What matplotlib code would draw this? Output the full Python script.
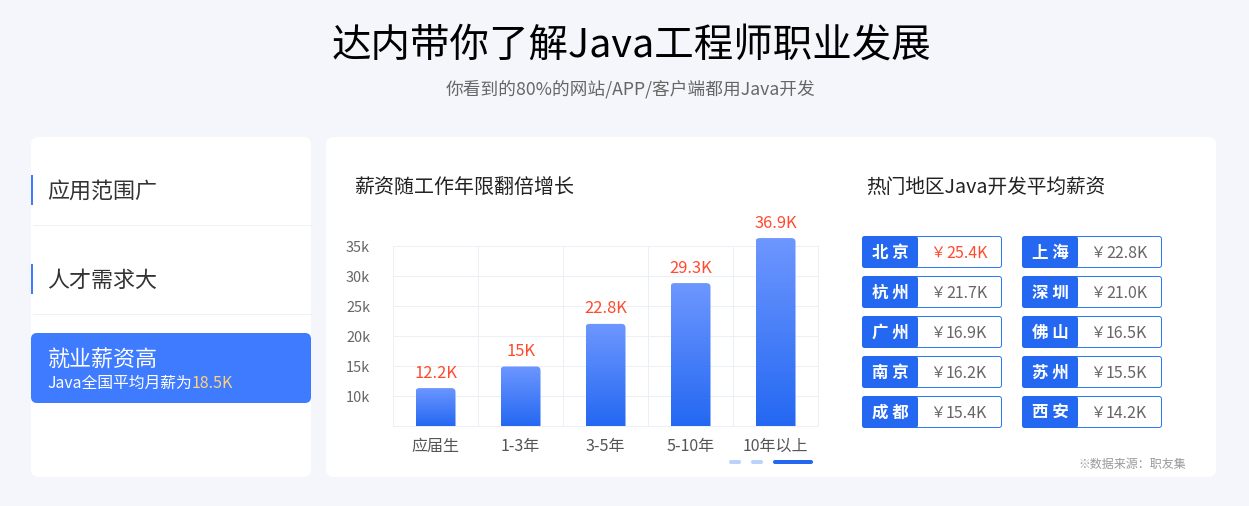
import matplotlib
matplotlib.use("Agg")
import matplotlib.pyplot as plt
import numpy as np
from matplotlib.colors import LinearSegmentedColormap
from matplotlib.patches import FancyBboxPatch, Rectangle
from matplotlib.path import Path

plt.rcParams['font.family'] = ['Noto Sans CJK SC', 'DejaVu Sans']

# chart data
years = ['应届生', '1-3年', '3-5年', '5-10年', '10年以上']
bar_values = [11.4, 15.0, 22.1, 28.9, 36.4]   # bar heights as drawn, they differ a bit from the labels
bar_labels = ['12.2K', '15K', '22.8K', '29.3K', '36.9K']
y_ticks = [10, 15, 20, 25, 30, 35]

cities_left = ['北京', '杭州', '广州', '南京', '成都']
salary_left = ['25.4K', '21.7K', '16.9K', '16.2K', '15.4K']
cities_right = ['上海', '深圳', '佛山', '苏州', '西安']
salary_right = ['22.8K', '21.0K', '16.5K', '15.5K', '14.2K']

BG = '#F4F6FB'
BLUE = '#2468F2'
EDGE = '#2A7AF6'
ACTIVE = '#3F7BFF'
RED = '#FF4A2E'
GREY = '#666666'
GRID = '#EBF0F7'


def px(size):
    """pixel font size to points at dpi 100"""
    return size * 0.72


def round_box(ax, x0, y0, x1, y1, r, color, **kw):
    p = FancyBboxPatch((x0, y0), x1 - x0, y1 - y0, boxstyle=f"round,pad=0,rounding_size={r}",
                       facecolor=color, edgecolor='none', **kw)
    ax.add_patch(p)
    return p


def top_round_path(x0, x1, y0, y1, rx, ry):
    verts = [(x0, y0), (x0, y1 - ry), (x0, y1), (x0 + rx, y1), (x1 - rx, y1), (x1, y1), (x1, y1 - ry), (x1, y0), (x0, y0)]
    codes = [Path.MOVETO, Path.LINETO, Path.CURVE3, Path.CURVE3, Path.LINETO, Path.CURVE3, Path.CURVE3, Path.LINETO, Path.CLOSEPOLY]
    return Path(verts, codes)


fig = plt.figure(figsize=(12.4901, 5.0601), dpi=100, facecolor=BG)

# page layer in pixel coordinates
page = fig.add_axes([0, 0, 1, 1], zorder=1)
page.set_xlim(0, 1249)
page.set_ylim(506, 0)
page.axis('off')

page.text(631, 46, '达内带你了解Java工程师职业发展', fontsize=px(39.5), color='#000000', ha='center', va='center',
          fontweight='medium')
page.text(631, 89, '你看到的80%的网站/APP/客户端都用Java开发', fontsize=px(17.7), color=GREY, ha='center', va='center')

# panels
round_box(page, 31, 137, 311, 477, 8, 'white')
round_box(page, 326, 137, 1216, 477, 8, 'white')

# left menu
for y, name in zip([190, 279], ['应用范围广', '人才需求大']):
    page.add_patch(Rectangle((31, y - 15), 2, 30, facecolor=ACTIVE, edgecolor='none'))
    page.text(47.5, y + 2, name, fontsize=px(22), color='#333333', ha='left', va='center')
page.plot([33, 311], [225.5, 225.5], color='#EEF1F7', lw=0.72)
page.plot([33, 311], [314.5, 314.5], color='#EEF1F7', lw=0.72)
round_box(page, 31, 333, 311, 403, 6, ACTIVE)
page.text(47.5, 360, '就业薪资高', fontsize=px(22), color='white', ha='left', va='center')
page.text(47.5, 383, 'Java全国平均月薪为', fontsize=px(15.8), color='white', ha='left', va='center')
page.text(192, 383, '18.5K', fontsize=px(16), color='#FFD27A', ha='left', va='center')

# section headings
page.text(354.5, 187, '薪资随工作年限翻倍增长', fontsize=px(20), color='#222222', ha='left', va='center')
page.text(866.5, 187, '热门地区Java开发平均薪资', fontsize=px(19.7), color='#222222', ha='left', va='center')

# bar chart
ax = fig.add_axes([393 / 1249, (506 - 426.5) / 506, 425 / 1249, 180 / 506], zorder=2)
ax.patch.set_alpha(0)
ax.set_xlim(-0.5, 4.5)
ax.set_ylim(5, 35)
ax.set_yticks(y_ticks)
ax.set_yticklabels([f'{t}k' for t in y_ticks], fontsize=px(14.5), color=GREY)
ax.set_xticks(range(len(years)))
ax.set_xticklabels(years, fontsize=px(16), color='#555555')
ax.set_xticks(np.arange(-0.5, 4.6, 1), minor=True)
ax.tick_params(axis='both', which='both', length=0)
ax.tick_params(axis='y', pad=16.5)
ax.tick_params(axis='x', pad=8)
ax.grid(True, axis='y', which='major', color=GRID, lw=0.72)
ax.grid(True, axis='x', which='minor', color=GRID, lw=0.72)
ax.set_axisbelow(True)
for s in ax.spines.values():
    s.set_color(GRID)
    s.set_linewidth(0.72)

cmap = LinearSegmentedColormap.from_list('bar', ['#2468F2', '#6E97FF'])
grad = np.linspace(0, 1, 256).reshape(-1, 1)
bar_w = 40 / 85
for i, v in enumerate(bar_values):
    x0, x1 = i - bar_w / 2, i + bar_w / 2
    im = ax.imshow(grad, cmap=cmap, origin='lower', aspect='auto', extent=(x0, x1, 5, v), zorder=3)
    im.set_clip_box(fig.bbox)  # last bar runs above the axes
    im.set_clip_path(top_round_path(x0, x1, 5, v, 4 / 85, 4 / 6), ax.transData)
    ax.annotate(bar_labels[i], (i, v), xytext=(0, px(15)), textcoords='offset points',
                ha='center', va='center', fontsize=px(16.5), color=RED, annotation_clip=False)
ax.set_xlim(-0.5, 4.5)
ax.set_ylim(5, 35)

# pager dots under the chart
round_box(page, 729, 460, 741, 464, 2, '#BBD2FA')
round_box(page, 751, 460, 763, 464, 2, '#BBD2FA')
round_box(page, 773, 460, 813, 464, 2, BLUE)


# city salary cards
def city_column(x, names, salaries, first_red=False):
    for i, (name, sal) in enumerate(zip(names, salaries)):
        y = 236 + i * 40
        round_box(page, x, y, x + 140, y + 32, 3, EDGE)
        round_box(page, x + 1, y + 1, x + 139, y + 31, 2, 'white')
        round_box(page, x, y, x + 56, y + 32, 3, BLUE)
        page.text(x + 28, y + 17, f'{name[0]} {name[1]}', fontsize=px(16.5), color='white', ha='center', va='center',
                  fontweight='bold')
        color = RED if first_red and i == 0 else GREY
        page.text(x + 68, y + 17, '￥', fontsize=px(15), color=color, ha='left', va='center')
        page.text(x + 84, y + 17, sal, fontsize=px(16), color=color, ha='left', va='center')


city_column(862, cities_left, salary_left, first_red=True)
city_column(1022, cities_right, salary_right)

page.text(1186, 464, '※数据来源：职友集', fontsize=px(12), color='#999999', ha='right', va='center')

fig.savefig('out.png', dpi=100, facecolor=BG)
